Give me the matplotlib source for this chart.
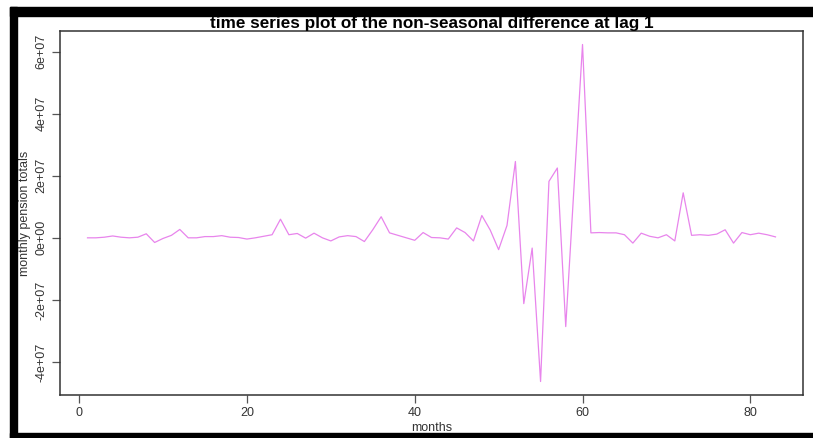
import numpy as np
import matplotlib
matplotlib.use("Agg")
import matplotlib.pyplot as plt
from matplotlib.patches import Rectangle

# month index and lag-1 differences (units of 1e7)
months = np.arange(1, 84)
diff_e7 = [
    0.00, 0.00, 0.02, 0.06, 0.02, 0.00, 0.02, 0.13, -0.15, -0.02,
    0.08, 0.27, 0.00, 0.00, 0.04, 0.04, 0.07, 0.02, 0.01, -0.04,
    0.00, 0.05, 0.10, 0.60, 0.10, 0.14, -0.01, 0.15, 0.00, -0.10,
    0.03, 0.07, 0.04, -0.12, 0.26, 0.68, 0.16, 0.08, 0.00, -0.08,
    0.17, 0.01, 0.00, -0.04, 0.32, 0.17, -0.10, 0.72, 0.25, -0.38,
    0.40, 2.46, -2.12, -0.33, -4.63, 1.82, 2.25, -2.86, 1.70, 6.23,
    0.16, 0.17, 0.16, 0.16, 0.10, -0.17, 0.15, 0.05, 0.00, 0.10,
    -0.10, 1.45, 0.08, 0.10, 0.08, 0.12, 0.26, -0.17, 0.17, 0.10,
    0.15, 0.10, 0.03,
]
diff = np.array(diff_e7) * 1e7

x_ticks = [0, 20, 40, 60, 80]
y_ticks = [-4e7, -2e7, 0, 2e7, 4e7, 6e7]
y_labels = ["-4e+07", "-2e+07", "0e+00", "2e+07", "4e+07", "6e+07"]

plt.rcParams['font.family'] = ['Liberation Sans', 'DejaVu Sans']

fig = plt.figure(figsize=(8.13, 4.38), dpi=100)
ax = fig.add_axes([0.0738, 0.0982, 0.9139, 0.831])

ax.plot(months, diff, color='#E885EC', linewidth=0.9)

# R-style 4% padding
pad_x = 0.04 * (months.max() - months.min())
ax.set_xlim(months.min() - pad_x, months.max() + pad_x)
pad_y = 0.04 * (diff.max() - diff.min())
ax.set_ylim(diff.min() - pad_y, diff.max() + pad_y)

ax.set_xticks(x_ticks)
ax.set_yticks(y_ticks)
ax.set_yticklabels(y_labels, rotation=90, va='center')
ax.tick_params(axis='both', direction='out', length=6, width=0.9,
               color='#555555', labelcolor='#333333', labelsize=9, pad=3)
for s in ax.spines.values():
    s.set_color('#333333')
    s.set_linewidth(1.1)

ax.set_title('time series plot of the non-seasonal difference at lag 1',
             fontsize=12.3, fontweight='bold', pad=1.5)
ax.set_xlabel('months', fontsize=9, labelpad=1.5, color='#333333')
ax.set_ylabel('monthly pension totals', fontsize=9, labelpad=3, color='#333333')

# black screenshot frame
W, H = 813, 438
for (x0, y0, w, h) in [(10, 7, 7, 431), (10, 7, 803, 9), (10, 433, 803, 5)]:
    fig.patches.append(Rectangle((x0 / W, 1 - (y0 + h) / H), w / W, h / H,
                                 transform=fig.transFigure, color='black', zorder=10))

fig.savefig('out.png', dpi=100)
